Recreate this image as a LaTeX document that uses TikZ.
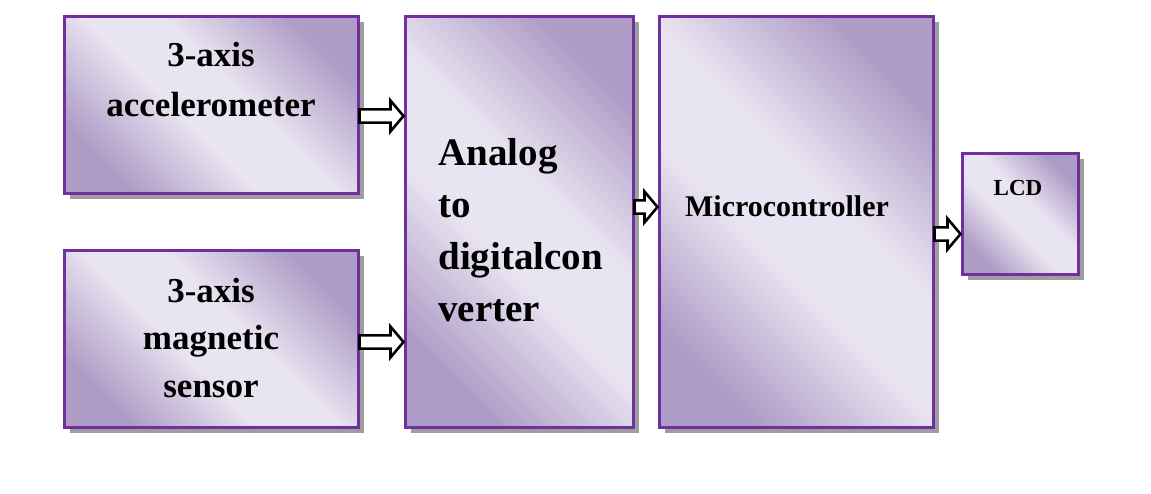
\documentclass[tikz,border=0pt]{standalone}
\usepackage{fontspec}
\setmainfont{Liberation Serif}
\usetikzlibrary{calc,shadows}

\definecolor{khungtim}{RGB}{112,48,160}
\definecolor{timdam}{RGB}{174,156,198}
\definecolor{timnhat}{RGB}{233,228,241}

\pgfdeclareverticalshading{timchuyen}{100bp}{color(0bp)=(timdam); color(25bp)=(timdam);
  color(44bp)=(timnhat); color(56bp)=(timnhat); color(75bp)=(timdam); color(100bp)=(timdam)}

\tikzset{
  hop/.style={draw=khungtim, line width=1.5pt, inner sep=0pt,
    shading=timchuyen, shading angle=-45,
    drop shadow={shadow xshift=3pt, shadow yshift=-3pt, fill=black!38, opacity=1}},
  chu/.style={font=\bfseries, align=center, inner sep=0pt},
  muitenrong/.style={draw=black, line width=1.3pt, fill=white, line join=miter,
    to path={let \p1=(\tikztostart), \p2=(\tikztotarget) in
      (\x1,\y1+3.3pt) -- (\x2-6.5pt,\y1+3.3pt) -- (\x2-6.5pt,\y1+7.7pt) -- (\x2,\y1)
      -- (\x2-6.5pt,\y1-7.7pt) -- (\x2-6.5pt,\y1-3.3pt) -- (\x1,\y1-3.3pt) -- cycle}}
}

\begin{document}
\begin{tikzpicture}[x=0.5pt, y=-0.5pt]
    \useasboundingbox[fill=white] (0,0) rectangle (1151,493);

    % ==================== CÁC KHỐI ====================
    \node[hop, minimum width=147pt, minimum height=88.5pt] (acc) at (211,104.5) {};
    \node[hop, minimum width=147pt, minimum height=88.5pt] (mag) at (211,338.5) {};
    \node[hop, minimum width=114pt, minimum height=205.5pt] (adc) at (519,221.5) {};
    \node[hop, minimum width=137pt, minimum height=205.5pt] (mcu) at (796,221.5) {};
    \node[hop, minimum width=58pt, minimum height=60.5pt] (lcd) at (1020,213.5) {};

    % ==================== CHỮ TRONG KHỐI ====================
    \node[chu, font=\fontsize{17.5}{25}\bfseries] (acctxt) at (211,80) {3-axis\\accelerometer};
    \node[chu, font=\fontsize{17.5}{23.8}\bfseries] (magtxt) at (211,338) {3-axis\\magnetic\\sensor};
    \node[chu, align=left, anchor=north west, font=\fontsize{19.5}{26}\bfseries] (adctxt) at (438,138)
        {Analog\\to\\digitalcon\\verter};
    \node[chu, font=\fontsize{15}{18}\bfseries] (mcutxt) at (787,206) {Microcontroller};
    \node[chu, font=\fontsize{11.5}{14}\bfseries] (lcdtxt) at (1018,188) {LCD};

    % ==================== MŨI TÊN ====================
    \draw[muitenrong] ($(acc.east)+(0,11.5)$) to (adc.west);
    \draw[muitenrong] ($(mag.east)+(0,3.5)$) to (adc.west);
    \draw[muitenrong] ($(adc.east)+(0,-14.5)$) to (mcu.west);
    \draw[muitenrong] ($(mcu.east)+(0,12.5)$) to (lcd.west);
\end{tikzpicture}
\end{document}
